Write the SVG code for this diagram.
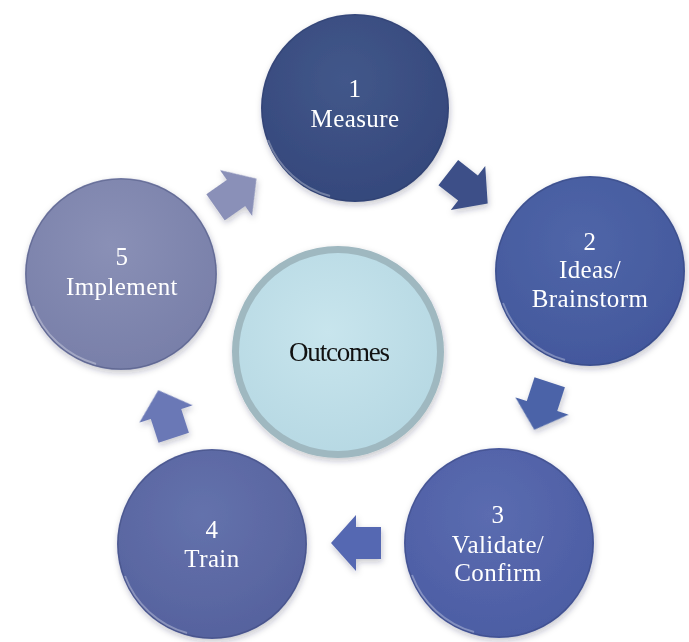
<svg xmlns="http://www.w3.org/2000/svg" width="689" height="642" viewBox="0 0 689 642">
  <defs>
    <style>
      .lbl { font-family: "Liberation Serif", "Times New Roman", "DejaVu Serif", serif; font-size: 25px; fill: #ffffff; text-anchor: middle; letter-spacing: 0.4px; }
      .ctr { font-family: "Liberation Serif", "Times New Roman", "DejaVu Serif", serif; font-size: 27px; fill: #111111; text-anchor: middle; letter-spacing: -1.2px; }
      .rim { fill: none; stroke: #ffffff; stroke-opacity: 0.3; stroke-width: 2; }
      .edge { fill: none; stroke: #2a3560; stroke-opacity: 0.3; stroke-width: 1.2; }
    </style>
    <filter id="sh" x="-20%" y="-20%" width="140%" height="140%">
      <feDropShadow dx="1" dy="3" stdDeviation="3" flood-color="#1a2040" flood-opacity="0.25"/>
    </filter>
    <radialGradient id="g1" cx="45%" cy="35%" r="70%">
      <stop offset="0" stop-color="#42578a"/>
      <stop offset="1" stop-color="#34477b"/>
    </radialGradient>
    <radialGradient id="g2" cx="45%" cy="35%" r="70%">
      <stop offset="0" stop-color="#5066a8"/>
      <stop offset="1" stop-color="#42579c"/>
    </radialGradient>
    <radialGradient id="g3" cx="45%" cy="35%" r="70%">
      <stop offset="0" stop-color="#5b6cb0"/>
      <stop offset="1" stop-color="#4b5ca3"/>
    </radialGradient>
    <radialGradient id="g4" cx="45%" cy="35%" r="70%">
      <stop offset="0" stop-color="#6472ac"/>
      <stop offset="1" stop-color="#55619d"/>
    </radialGradient>
    <radialGradient id="g5" cx="45%" cy="35%" r="70%">
      <stop offset="0" stop-color="#8a90b6"/>
      <stop offset="1" stop-color="#777ea8"/>
    </radialGradient>
    <radialGradient id="g0" cx="45%" cy="40%" r="65%">
      <stop offset="0" stop-color="#c8e5ed"/>
      <stop offset="1" stop-color="#b6d8e3"/>
    </radialGradient>
    <path id="arr" d="M-25,-16 L0,-16 L0,-28 L25,0 L0,28 L0,16 L-25,16 Z"/>
  </defs>
  <rect width="689" height="642" fill="#ffffff"/>

  <g id="connectors" filter="url(#sh)">
    <use href="#arr" transform="translate(468,188) rotate(38)" fill="#3c5088"/>
    <use href="#arr" transform="translate(542,406) rotate(108)" fill="#4b64a8"/>
    <use href="#arr" transform="translate(356,543) rotate(180)" fill="#5568b2"/>
    <use href="#arr" transform="translate(166,414) rotate(-108)" fill="#6a78b6"/>
    <use href="#arr" transform="translate(236,193) rotate(-35)" fill="#8a90b8"/>
  </g>

  <g id="outcomes">
    <circle cx="338" cy="352" r="106" fill="#9fb8c0" filter="url(#sh)"/>
    <circle cx="338" cy="352" r="99" fill="url(#g0)"/>
    <text class="ctr" x="339" y="361">Outcomes</text>
  </g>

  <g id="n1">
    <circle cx="355" cy="108" r="94" fill="url(#g1)" filter="url(#sh)"/>
    <circle class="edge" cx="355" cy="108" r="93"/>
    <path class="rim" d="M268,140 A92,92 0 0 0 330,196"/>
    <text class="lbl" x="355" y="97">1</text>
    <text class="lbl" x="355" y="127">Measure</text>
  </g>

  <g id="n2">
    <circle cx="590" cy="271" r="95" fill="url(#g2)" filter="url(#sh)"/>
    <circle class="edge" cx="590" cy="271" r="94"/>
    <path class="rim" d="M503,303 A93,93 0 0 0 565,360"/>
    <text class="lbl" x="590" y="250">2</text>
    <text class="lbl" x="590" y="278">Ideas/</text>
    <text class="lbl" x="590" y="307">Brainstorm</text>
  </g>

  <g id="n3">
    <circle cx="499" cy="543" r="95" fill="url(#g3)" filter="url(#sh)"/>
    <circle class="edge" cx="499" cy="543" r="94"/>
    <path class="rim" d="M412,575 A93,93 0 0 0 474,632"/>
    <text class="lbl" x="498" y="523">3</text>
    <text class="lbl" x="498" y="553">Validate/</text>
    <text class="lbl" x="498" y="581">Confirm</text>
  </g>

  <g id="n4">
    <circle cx="212" cy="544" r="95" fill="url(#g4)" filter="url(#sh)"/>
    <circle class="edge" cx="212" cy="544" r="94"/>
    <path class="rim" d="M125,576 A93,93 0 0 0 187,633"/>
    <text class="lbl" x="212" y="538">4</text>
    <text class="lbl" x="212" y="567">Train</text>
  </g>

  <g id="n5">
    <circle cx="121" cy="274" r="96" fill="url(#g5)" filter="url(#sh)"/>
    <circle class="edge" cx="121" cy="274" r="95"/>
    <path class="rim" d="M33,306 A94,94 0 0 0 96,364"/>
    <text class="lbl" x="122" y="265">5</text>
    <text class="lbl" x="122" y="295">Implement</text>
  </g>
</svg>
